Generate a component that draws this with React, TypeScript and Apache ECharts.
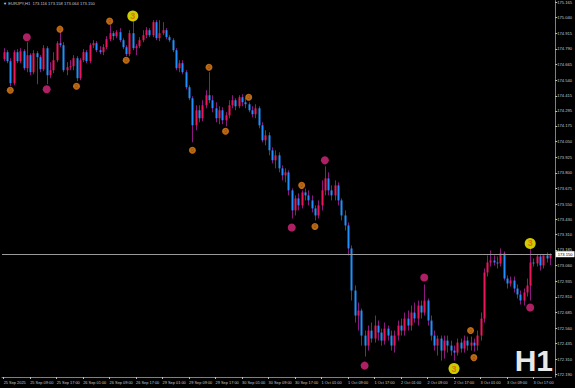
import React, { useEffect, useRef } from "react";
import * as echarts from "echarts";

const headerText = "▼ EURJPY,H1  173.116 173.158 173.064 173.150";
const priceTicks = [175.165, 175.04, 174.915, 174.79, 174.665, 174.54, 174.415, 174.295, 174.175, 174.05, 173.925, 173.8, 173.675, 173.55, 173.43, 173.31, 173.185, 173.06, 172.935, 172.81, 172.685, 172.56, 172.435, 172.31, 172.19];
const lastPrice = 173.15;
const days: [string, number, number][] = [["25 Sep", 1, 23], ["26 Sep", 0, 23], ["29 Sep", 0, 23], ["30 Sep", 0, 23], ["1 Oct", 0, 23], ["2 Oct", 0, 23], ["3 Oct", 0, 22]];

const openP = [174.708,174.764,174.692,174.516,174.764,174.692,174.772,174.636,174.740,174.604,
174.756,174.724,174.628,174.796,174.580,174.620,174.700,174.836,174.820,174.620,
174.644,174.652,174.716,174.556,174.700,174.764,174.692,174.820,174.836,174.780,
174.764,174.804,174.868,174.916,174.892,174.924,174.860,174.804,174.748,174.916,
174.796,174.812,174.860,174.900,174.940,174.900,175.004,174.876,174.916,174.940,
174.884,174.860,174.780,174.636,174.676,174.604,174.484,174.396,174.180,174.300,
174.236,174.340,174.420,174.380,174.316,174.236,174.300,174.220,174.260,174.340,
174.380,174.332,174.404,174.364,174.348,174.300,174.268,174.316,174.180,174.060,
174.100,173.980,173.900,173.940,173.836,173.780,173.804,173.660,173.500,173.596,
173.540,173.644,173.620,173.580,173.516,173.460,173.540,173.660,173.756,173.660,
173.620,173.700,173.580,173.460,173.380,173.196,172.860,172.660,172.700,172.500,
172.420,172.540,172.476,172.580,172.524,172.460,172.556,172.500,172.420,172.500,
172.580,172.540,172.636,172.580,172.684,172.636,172.740,172.684,172.780,172.620,
172.500,172.420,172.476,172.380,172.460,172.420,172.380,172.364,172.444,172.396,
172.460,172.420,172.444,172.420,172.500,172.636,173.004,173.084,173.100,173.084,
173.076,173.156,172.956,172.916,172.940,172.876,172.828,172.780,172.844,172.900,
173.084,173.076,173.132,173.060,173.140,173.116];
const closeP = [174.764,174.692,174.516,174.764,174.692,174.772,174.636,174.740,174.604,174.756,
174.724,174.628,174.796,174.580,174.620,174.700,174.836,174.820,174.620,174.644,
174.652,174.716,174.556,174.700,174.764,174.692,174.820,174.836,174.780,174.764,
174.804,174.868,174.916,174.892,174.924,174.860,174.804,174.748,174.916,174.796,
174.812,174.860,174.900,174.940,174.900,175.004,174.876,174.916,174.940,174.884,
174.860,174.780,174.636,174.676,174.604,174.484,174.396,174.180,174.300,174.236,
174.340,174.420,174.380,174.316,174.236,174.300,174.220,174.260,174.340,174.380,
174.332,174.404,174.364,174.348,174.300,174.268,174.316,174.180,174.060,174.100,
173.980,173.900,173.940,173.836,173.780,173.804,173.660,173.500,173.596,173.540,
173.644,173.620,173.580,173.516,173.460,173.540,173.660,173.756,173.660,173.620,
173.700,173.580,173.460,173.380,173.196,172.860,172.660,172.700,172.500,172.420,
172.540,172.476,172.580,172.524,172.460,172.556,172.500,172.420,172.500,172.580,
172.540,172.636,172.580,172.684,172.636,172.740,172.684,172.780,172.620,172.500,
172.420,172.476,172.380,172.460,172.420,172.380,172.364,172.444,172.396,172.460,
172.420,172.444,172.420,172.500,172.636,173.004,173.084,173.100,173.084,173.076,
173.156,172.956,172.916,172.940,172.876,172.828,172.780,172.844,172.900,173.084,
173.076,173.132,173.060,173.140,173.116,173.150];
const highP = [174.796,174.780,174.716,174.780,174.788,174.796,174.788,174.844,174.756,174.780,
174.772,174.740,174.820,174.812,174.684,174.764,174.852,174.924,174.844,174.684,
174.700,174.740,174.732,174.716,174.788,174.780,174.836,174.860,174.852,174.812,
174.828,174.892,174.980,174.932,174.940,174.956,174.876,174.820,174.940,175.012,
174.828,174.884,174.940,174.964,174.956,175.020,175.020,175.020,175.004,174.956,
174.900,174.876,174.796,174.700,174.700,174.620,174.500,174.412,174.340,174.340,
174.380,174.460,174.604,174.420,174.364,174.332,174.324,174.284,174.380,174.420,
174.396,174.420,174.428,174.396,174.364,174.332,174.348,174.332,174.204,174.140,
174.124,174.004,173.980,173.964,173.860,173.836,173.820,173.676,173.620,173.636,
173.660,173.676,173.660,173.620,173.540,173.580,173.740,173.852,173.804,173.700,
173.740,173.724,173.596,173.500,173.404,173.220,172.900,172.764,172.716,172.540,
172.580,172.604,172.660,172.620,172.556,172.604,172.580,172.540,172.540,172.620,
172.636,172.684,172.700,172.740,172.764,172.780,172.780,172.908,172.796,172.660,
172.540,172.500,172.500,172.500,172.500,172.460,172.420,172.476,172.476,172.500,
172.492,172.492,172.476,172.540,172.684,173.036,173.140,173.180,173.140,173.132,
173.196,173.172,172.980,172.972,172.972,172.908,172.860,172.876,172.956,173.196,
173.116,173.148,173.148,173.140,173.164,173.158];
const lowP = [174.692,174.676,174.492,174.500,174.676,174.676,174.620,174.604,174.580,174.588,
174.508,174.604,174.612,174.508,174.556,174.596,174.684,174.804,174.604,174.580,
174.620,174.620,174.532,174.540,174.684,174.676,174.676,174.796,174.764,174.748,
174.740,174.788,174.852,174.860,174.876,174.844,174.788,174.732,174.732,174.780,
174.740,174.796,174.844,174.876,174.884,174.884,174.860,174.852,174.900,174.868,
174.844,174.764,174.620,174.604,174.588,174.468,174.380,174.044,174.140,174.204,
174.212,174.316,174.356,174.284,174.204,174.188,174.188,174.172,174.236,174.316,
174.300,174.316,174.332,174.316,174.284,174.244,174.236,174.156,174.044,174.020,
173.940,173.876,173.836,173.804,173.740,173.724,173.620,173.436,173.460,173.500,
173.516,173.580,173.540,173.484,173.420,173.436,173.500,173.620,173.620,173.580,
173.580,173.540,173.420,173.340,173.140,172.780,172.604,172.540,172.420,172.332,
172.380,172.444,172.444,172.460,172.420,172.428,172.460,172.380,172.364,172.460,
172.500,172.500,172.540,172.540,172.604,172.580,172.636,172.660,172.580,172.460,
172.380,172.340,172.300,172.316,172.364,172.340,172.300,172.340,172.364,172.364,
172.380,172.380,172.372,172.380,172.460,172.604,172.972,173.052,173.060,173.036,
173.052,172.940,172.876,172.892,172.844,172.796,172.748,172.740,172.812,172.780,
173.052,173.052,173.020,173.036,173.084,173.064];

const markerOrange: [number, number][] = [[2, 174.46], [17, 174.948], [22, 174.492], [32, 175.012], [37, 174.7], [57, 173.98], [62, 174.644], [67, 174.132], [74, 174.404], [90, 173.7], [94, 173.372], [141, 172.54], [142, 172.324]];
const markerMagenta: [number, number][] = [[7, 174.884], [13, 174.468], [87, 173.364], [97, 173.9], [109, 172.26], [127, 172.964], [159, 172.724]];
const markerYellow: [number, number][] = [[39, 175.054], [136, 172.236], [159, 173.236]];

const BULL = "#f0145a";
const BEAR = "#1e90ff";
const WICK = "#8a1a80";

export default function App() {
  const ref = useRef<HTMLDivElement>(null);
  useEffect(() => {
    document.body.style.margin = "0";
    document.body.style.background = "#000";
    const cats: string[] = [];
    days.forEach(([d, s, e]) => {
      for (let h = s; h <= e; h++) cats.push(d + " " + String(h).padStart(2, "0") + ":00");
    });
    const ohlc = openP.map((o, i) => [i, o, closeP[i], lowP[i], highP[i]]);
    const chart = echarts.init(ref.current!, undefined, { renderer: "svg" });
    const fontFamily = "Liberation Sans, Arial, sans-serif";
    chart.setOption({
      animation: false,
      backgroundColor: "#000",
      grid: { left: 2, right: 22.5, top: 0, bottom: 11 },
      xAxis: {
        type: "category",
        data: cats,
        boundaryGap: true,
        axisLine: { show: true, lineStyle: { color: "#808080", width: 1 } },
        axisTick: { show: true, alignWithLabel: true, interval: (i: number) => i % 8 === 0, length: 2, lineStyle: { color: "#c0c0c0" } },
        axisLabel: {
          interval: (i: number) => i % 8 === 0,
          formatter: (v: string, i: number) => (i === 0 ? "25 Sep 2025" : v),
          color: "#c8c8c8", fontSize: 3.9, fontFamily, align: "left", margin: 3,
        },
        splitLine: { show: false },
      },
      yAxis: {
        type: "value",
        position: "right",
        min: 172.169,
        max: 175.176,
        offset: 3.5,
        axisLine: { show: true, lineStyle: { color: "#808080" } },
        axisTick: { show: true, customValues: priceTicks, length: 2, inside: false, lineStyle: { color: "#c0c0c0" } },
        axisLabel: { customValues: priceTicks, formatter: (v: number) => v.toFixed(3), color: "#c8c8c8", fontSize: 4.1, fontFamily, margin: 2 },
        splitLine: { show: false },
      },
      series: [
        {
          type: "custom",
          data: ohlc,
          encode: { x: 0, y: [1, 2, 3, 4] },
          renderItem: (params: any, api: any) => {
            const x = api.value(0);
            const o = api.value(1), c = api.value(2), l = api.value(3), h = api.value(4);
            const pO = api.coord([x, o]);
            const pC = api.coord([x, c]);
            const pL = api.coord([x, l]);
            const pH = api.coord([x, h]);
            const cx = Math.round(pO[0]) + 0.5;
            const top = Math.min(pO[1], pC[1]);
            const hgt = Math.max(1, Math.abs(pO[1] - pC[1]));
            return {
              type: "group",
              children: [
                { type: "line", shape: { x1: cx, y1: pH[1], x2: cx, y2: pL[1] }, style: { stroke: WICK, lineWidth: 1 } },
                { type: "rect", shape: { x: cx - 1, y: top, width: 2, height: hgt }, style: { fill: c >= o ? BULL : BEAR } },
              ],
            };
          },
          markLine: {
            silent: true,
            symbol: "none",
            lineStyle: { color: "#9a9a9a", width: 1, type: "solid" },
            label: { show: true, position: "end", formatter: lastPrice.toFixed(3), backgroundColor: "#fff", color: "#000", fontSize: 4.1, padding: [1, 2], distance: 4, fontFamily },
            data: [{ yAxis: lastPrice }],
          },
          z: 2,
        },
        {
          type: "scatter",
          data: markerOrange,
          symbol: "circle",
          symbolSize: 7,
          itemStyle: { color: "#e8841c" },
          label: { show: true, position: "inside", formatter: "0", color: "#8a3a00", fontSize: 5, fontFamily },
          z: 3,
        },
        {
          type: "scatter",
          data: markerMagenta,
          symbol: "circle",
          symbolSize: 8,
          itemStyle: { color: "#d8287c" },
          z: 3,
        },
        {
          type: "scatter",
          data: markerYellow,
          symbol: "circle",
          symbolSize: 11,
          itemStyle: { color: "#ffff00" },
          label: { show: true, position: "inside", formatter: "3", color: "#e06000", fontSize: 9, fontWeight: "bold", fontFamily },
          z: 3,
        },
      ],
      graphic: [
        { type: "text", left: 3, top: 1, style: { text: headerText, fill: "#c8c8c8", fontSize: 4.1, fontFamily } },
        { type: "text", right: 22, bottom: 13, style: { text: "H1", fill: "#e8e8e8", fontSize: 30, fontWeight: "bold", fontFamily } },
      ],
    });
    return () => chart.dispose();
  }, []);
  return <div ref={ref} style={{ width: 575, height: 388 }} />;
}
